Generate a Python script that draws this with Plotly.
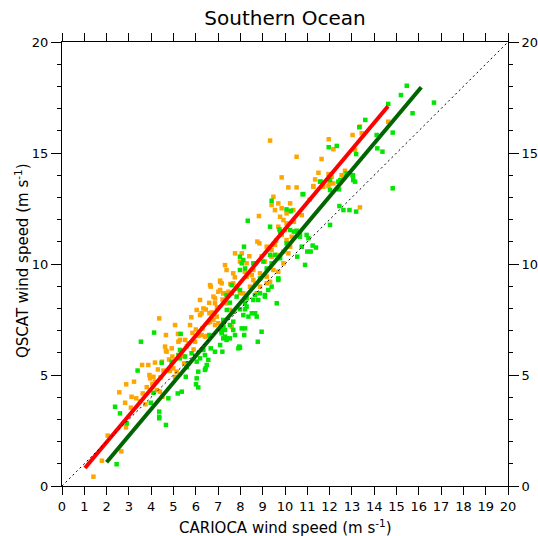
import plotly.graph_objects as go

# ---- data ----
orange_x = [1.41, 1.79, 2.66, 2.05, 2.87, 3.09, 3.12, 2.57, 2.88, 3.23, 3.50, 3.62, 3.59, 3.87, 4.17, 3.92, 4.10, 4.17, 4.25, 4.36,
            4.62, 4.66, 4.66, 4.92, 5.07, 5.22, 5.29, 5.52, 5.67, 5.74, 4.99, 5.07, 4.39, 4.50, 4.84, 5.14, 5.47, 6.04, 6.19, 6.26,
            6.34, 6.19, 6.26, 6.41, 6.49, 6.56, 6.67, 6.79, 6.86, 6.79, 6.86, 6.94, 7.01, 7.09, 7.26, 7.38, 7.46, 7.53, 8.13, 8.28,
            8.51, 3.74, 2.83, 4.42, 4.48, 4.69, 4.95, 5.97, 6.12, 6.61, 6.71, 6.64, 6.86, 7.01, 6.64,
            9.33, 10.52, 11.64, 11.96, 12.17, 13.03, 13.36, 13.44, 13.14, 9.85, 10.15, 10.52, 11.35, 11.50, 11.95, 12.09, 11.72, 11.95,
            12.17, 12.69, 12.62, 13.36, 14.63, 9.40, 9.55, 9.70, 9.85, 10.23, 10.23, 10.37, 10.07, 9.78, 9.93, 10.07, 9.70, 10.00,
            9.85, 10.07, 10.23, 10.30, 9.48, 8.83, 8.76, 8.85, 9.18, 9.40, 9.55, 9.40, 9.63, 9.93, 9.93, 9.70, 9.48, 10.15, 7.76,
            8.06, 7.98, 7.68, 7.31, 7.38, 7.09, 7.16, 7.09, 7.23, 7.68, 7.98, 8.43, 8.58, 8.66, 8.88, 8.73, 9.18, 9.33, 8.88, 7.61,
            8.58, 8.28, 9.10, 9.18, 11.27, 12.54, 11.27, 12.00,
            3.33, 3.80, 4.05, 4.55, 4.80, 5.35, 5.60, 5.85, 5.45, 6.00, 6.30, 5.90, 6.45, 6.95, 7.20, 7.55, 7.85, 8.20, 8.40, 5.20,
            4.30, 3.95, 5.80, 6.60, 7.75, 8.95, 9.60, 10.40, 10.75, 11.10]
orange_y = [0.42, 1.14, 1.56, 2.27, 2.64, 3.53, 4.02, 4.22, 4.58, 4.70, 3.80, 4.17, 5.45, 5.45, 5.56, 5.00, 4.92, 4.70, 4.32, 7.55,
            6.28, 6.80, 6.10, 6.20, 7.25, 6.50, 6.58, 6.58, 6.43, 7.25, 5.30, 4.92, 4.25, 4.02, 5.18, 5.15, 5.53, 7.93, 7.70, 7.78,
            8.00, 8.38, 6.80, 6.73, 6.76, 7.36, 8.98, 8.53, 8.23, 7.48, 7.25, 7.63, 7.33, 9.25, 8.68, 8.23, 8.75, 7.93, 8.68, 10.03,
            9.50, 3.68, 3.75, 4.90, 5.60, 6.05, 5.83, 6.50, 6.76, 7.78, 7.82, 7.40, 8.45, 8.75, 9.05,
            15.56, 14.83, 14.73, 15.62, 15.17, 15.81, 16.19, 15.89, 15.14, 13.90, 13.45, 13.45, 13.81, 14.11, 14.05, 13.93, 13.48, 13.51,
            13.63, 14.20, 13.93, 12.55, 16.41, 12.66, 12.43, 12.73, 12.51, 12.73, 12.36, 12.43, 12.28, 12.13, 11.98, 11.83, 11.68, 11.53,
            11.31, 11.08, 10.78, 11.23, 13.03, 12.16, 11.01, 10.93, 10.78, 10.63, 10.86, 10.33, 10.41, 10.56, 10.03, 9.65, 9.73, 10.48, 10.48,
            10.48, 10.11, 9.58, 9.95, 9.73, 9.20, 9.13, 8.83, 8.68, 9.13, 8.68, 8.98, 9.28, 9.13, 9.58, 8.68, 9.13, 9.20, 8.98, 7.18,
            9.73, 9.43, 10.11, 9.43, 13.51, 14.00, 13.48, 13.60,
            3.95, 4.45, 4.60, 5.20, 5.70, 6.05, 6.30, 6.90, 5.85, 7.05, 7.10, 6.15, 7.95, 8.05, 8.40, 9.10, 8.95, 9.65, 10.35, 6.85,
            5.25, 4.85, 7.60, 8.25, 9.40, 10.35, 11.05, 11.90, 12.20, 12.90]

green_x = [3.54, 4.13, 5.32, 3.39, 2.38, 2.60, 2.90, 2.45, 4.36, 4.36, 4.36, 4.66, 3.98, 4.10, 4.77, 5.19, 5.37, 5.55, 5.22, 5.29,
           5.52, 5.67, 6.04, 6.01, 6.11, 6.19, 6.41, 6.44, 6.56, 6.34, 6.86, 7.09, 7.19, 7.23, 7.38, 7.16, 7.53, 7.68, 7.98, 8.13,
           8.21, 8.36, 7.38, 7.98, 8.13, 8.66, 8.80, 4.47, 4.92, 5.28, 5.81, 6.04, 6.41, 6.67, 6.61, 7.16, 7.31, 7.68, 7.61, 7.91,
           7.53, 7.24, 7.39, 6.49, 5.59, 6.11, 9.85, 9.33, 9.78, 7.98, 8.88, 9.18, 9.70, 9.40, 9.10, 8.65, 9.63, 7.61, 7.83, 8.28,
           15.46, 15.20, 15.72, 16.68, 14.83, 13.60, 13.33, 14.14, 14.37, 14.83, 11.96, 12.32, 13.19, 11.60, 12.02, 12.47, 13.05, 13.06,
           12.42, 12.02, 10.79, 12.44, 12.62, 12.89, 13.19, 12.02, 9.40, 10.07, 10.27, 8.33, 9.33, 9.75, 9.78, 10.23, 10.40, 10.52,
           10.67, 10.97, 11.05, 10.67, 10.07, 10.75, 11.24, 11.39, 11.00, 11.15, 10.55, 10.90, 9.55, 9.40, 8.16, 7.98, 8.06, 8.21,
           8.58, 9.03, 9.70, 9.25, 8.88, 9.10, 8.58, 8.28, 8.51, 8.66, 8.73, 7.83, 7.53, 7.98, 8.21, 8.21, 8.06, 7.76, 8.17, 8.95,
           8.78, 7.95, 7.31, 7.38, 7.16, 7.23, 7.68, 14.63, 14.11, 12.76, 13.03, 13.14, 12.39, 11.57, 11.99, 10.82]
green_y = [6.50, 6.91, 6.85, 5.20, 3.57, 3.27, 2.82, 0.98, 3.35, 3.12, 3.05, 2.75, 3.75, 4.20, 3.95, 4.17, 4.25, 4.92, 5.90, 6.13,
           5.83, 5.53, 4.85, 4.58, 5.15, 5.75, 5.90, 5.30, 5.68, 6.13, 6.05, 6.35, 6.05, 6.65, 6.65, 6.88, 7.25, 7.03, 6.23, 7.70,
           8.23, 7.63, 8.60, 8.83, 10.18, 10.03, 8.38, 5.55, 5.60, 5.75, 5.98, 5.60, 5.23, 6.20, 6.80, 6.95, 7.03, 7.85, 9.05, 6.20,
           6.65, 7.18, 7.93, 5.45, 5.35, 4.44, 11.38, 10.41, 10.26, 9.73, 9.35, 9.80, 9.35, 8.98, 8.60, 8.60, 8.23, 8.68, 8.90, 8.45,
           18.03, 17.61, 16.79, 17.27, 15.92, 16.49, 16.16, 15.21, 15.06, 13.41, 15.26, 15.32, 14.95, 13.71, 13.78, 13.78, 13.98, 13.78,
           13.36, 13.33, 13.14, 12.61, 12.43, 12.43, 12.36, 11.76, 12.85, 12.46, 12.40, 11.95, 11.68, 11.56, 11.46, 11.53, 11.46, 11.50,
           11.38, 11.31, 11.16, 11.23, 10.93, 10.78, 10.83, 10.74, 10.56, 10.56, 10.33, 9.96, 10.41, 10.03, 10.78, 10.33, 10.03, 9.80,
           10.03, 10.11, 9.28, 8.83, 8.68, 8.53, 8.38, 8.08, 7.78, 7.78, 7.63, 8.53, 8.26, 7.96, 7.96, 7.10, 7.10, 6.80, 6.80, 6.95,
           6.50, 6.28, 6.73, 6.58, 7.03, 7.48, 7.40, 17.21, 15.81, 14.08, 14.00, 13.71, 13.71, 13.71, 13.90, 13.15]

# regression line end points
red_line_x = [1.03, 14.62]
red_line_y = [0.81, 17.11]
dkgreen_line_x = [2.00, 16.11]
dkgreen_line_y = [1.07, 17.96]
one_to_one = [0, 20]

x_ticks = list(range(0, 21))
y_ticks = [0, 5, 10, 15, 20]

FONT = "DejaVu Sans"
W, H = 538, 536

fig = go.Figure()
fig.add_trace(go.Scatter(x=orange_x, y=orange_y, mode="markers",
                         marker=dict(symbol="square", size=4.5, color="#FFA500"), showlegend=False))
fig.add_trace(go.Scatter(x=green_x, y=green_y, mode="markers",
                         marker=dict(symbol="square", size=4.5, color="#00E600"), showlegend=False))
fig.add_trace(go.Scatter(x=red_line_x, y=red_line_y, mode="lines",
                         line=dict(color="#FF0000", width=4), showlegend=False))
fig.add_trace(go.Scatter(x=dkgreen_line_x, y=dkgreen_line_y, mode="lines",
                         line=dict(color="#006400", width=4), showlegend=False))
fig.add_trace(go.Scatter(x=one_to_one, y=one_to_one, mode="lines",
                         line=dict(color="black", width=1, dash="2px,3px"), showlegend=False))
# invisible trace to anchor right axis
fig.add_trace(go.Scatter(x=one_to_one, y=one_to_one, mode="lines", yaxis="y2",
                         line=dict(color="rgba(0,0,0,0)", width=0), showlegend=False, hoverinfo="skip"))

axis_common = dict(showgrid=False, zeroline=False, showline=True, linecolor="black", linewidth=1,
                   ticks="outside", tickcolor="black", tickwidth=1,
                   tickfont=dict(family=FONT, size=13, color="black"))

fig.update_layout(
    width=W, height=H,
    margin=dict(l=62, r=30, t=42, b=50, autoexpand=False),
    paper_bgcolor="white", plot_bgcolor="white",
    font=dict(family=FONT, color="black"),
    title=dict(text="Southern Ocean", x=0.5, xref="paper", y=1 - 18 / H, yref="container",
               xanchor="center", yanchor="middle", font=dict(family=FONT, size=20, color="black")),
    xaxis=dict(range=[0, 20], tickvals=x_ticks, ticktext=[str(v) for v in x_ticks], ticklen=8,
               mirror="ticks", **axis_common),
    yaxis=dict(range=[0, 20], tickvals=y_ticks, ticklen=10,
               minor=dict(dtick=1, tick0=0, ticks="outside", ticklen=4, tickcolor="black", showgrid=False),
               **axis_common),
    yaxis2=dict(range=[0, 20], tickvals=y_ticks, ticklen=10, overlaying="y", side="right",
                minor=dict(dtick=1, tick0=0, ticks="outside", ticklen=4, tickcolor="black", showgrid=False),
                **axis_common),
    annotations=[
        dict(text="CARIOCA wind speed (m s<sup>-1</sup>)", xref="paper", yref="paper", x=0.5, y=-0.092,
             xanchor="center", yanchor="middle", showarrow=False, font=dict(family=FONT, size=15, color="black")),
        dict(text="QSCAT wind speed (m s<sup>-1</sup>)", xref="paper", yref="paper", x=-0.0897, y=0.509,
             xanchor="center", yanchor="middle", textangle=-90, showarrow=False,
             font=dict(family=FONT, size=15, color="black")),
    ],
)

# remove the default 8px page margin so the figure sits at the window's top-left corner
fig.write_html("out.html", config={"displayModeBar": False},
               post_script="document.body.style.margin='0';document.body.style.overflow='hidden';")
